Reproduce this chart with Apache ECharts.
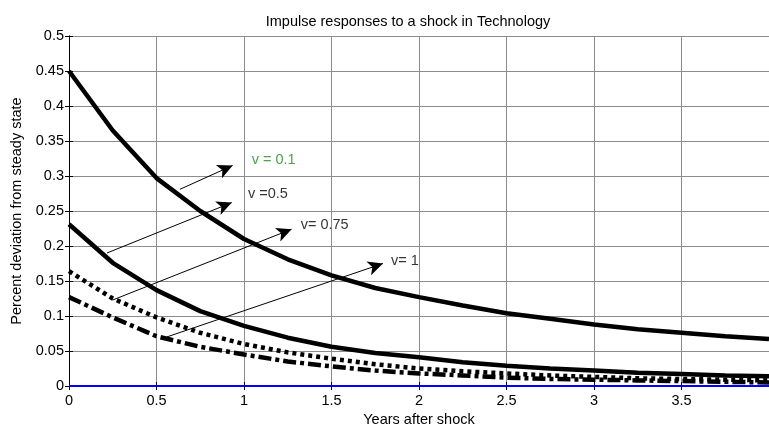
<!DOCTYPE html>
<html>
<head>
<meta charset="utf-8">
<script src="https://cdn.jsdelivr.net/npm/echarts@6/dist/echarts.min.js"></script>
<style>
    html, body { margin: 0; padding: 0; background: #fff; }
    #chart { width: 769px; height: 428px; }
</style>
</head>
<body>
<div id="chart"></div>
<script>
// years after shock (quarterly)
const years = [0, 0.25, 0.5, 0.75, 1, 1.25, 1.5, 1.75, 2, 2.25, 2.5, 2.75, 3, 3.25, 3.5, 3.75, 4];
const v01 = [0.45, 0.365, 0.297, 0.25, 0.21, 0.181, 0.158, 0.14, 0.127, 0.115, 0.104, 0.096, 0.088, 0.081, 0.076, 0.071, 0.067];
const v05 = [0.231, 0.176, 0.137, 0.107, 0.086, 0.069, 0.056, 0.047, 0.041, 0.034, 0.029, 0.025, 0.022, 0.019, 0.017, 0.015, 0.014];
const v075 = [0.164, 0.125, 0.098, 0.076, 0.06, 0.048, 0.039, 0.031, 0.025, 0.021, 0.018, 0.015, 0.013, 0.011, 0.01, 0.009, 0.008];
const v1 = [0.127, 0.098, 0.071, 0.056, 0.045, 0.035, 0.028, 0.022, 0.018, 0.015, 0.012, 0.01, 0.009, 0.008, 0.007, 0.006, 0.005];
const zero = [0, 0, 0, 0, 0, 0, 0, 0, 0, 0, 0, 0, 0, 0, 0, 0, 0];

// annotation arrows: [startX, startY, endX, endY]
const arrows = [
    [0.634, 0.281, 0.935, 0.315],
    [0.217, 0.19, 0.93, 0.262],
    [0.251, 0.123, 1.272, 0.224],
    [0.558, 0.07, 1.794, 0.175]
];
const labelTexts = ["v = 0.1", "v =0.5", "v= 0.75", "v= 1"];
const labelPos = [[1.044, 0.323], [1.023, 0.275], [1.324, 0.23], [1.84, 0.179]];
const labelColors = ["#1f8a1f", "#000", "#000", "#000"];

function pairs(ys){
    return years.map(function(x, i){ return [x, ys[i]]; });
}

const font = "Liberation Sans, Arial, sans-serif";
const fs = 14.5;
const myChart = echarts.init(document.getElementById('chart'));

myChart.setOption({
    animation: false,
    title: {
        text: 'Impulse responses to a shock in Technology',
        left: 403,
        textAlign: 'center',
        top: 9,
        textStyle: { fontSize: fs, fontWeight: 'normal', color: '#000', fontFamily: font }
    },
    grid: { left: 69, right: 0, top: 36, bottom: 42, containLabel: false, outerBoundsMode: 'none' },
    xAxis: [
        {
            type: 'value', min: 0, max: 4, interval: 0.5,
            name: 'Years after shock', nameLocation: 'middle', nameGap: 23,
            nameTextStyle: { fontSize: fs, color: '#000', fontFamily: font },
            axisLine: { onZero: false, lineStyle: { color: '#000', width: 1 } },
            axisTick: { inside: true, length: 4, lineStyle: { color: '#000' } },
            axisLabel: {
                fontSize: fs, color: '#000', fontFamily: font, margin: 7,
                formatter: function(v){ return v === 4 ? '' : String(v); }
            },
            splitLine: { show: true, lineStyle: { color: '#8c8c8c', width: 1 } }
        },
        {
            type: 'value', min: 0, max: 4, interval: 0.5, position: 'top',
            axisLine: { show: true, lineStyle: { color: '#000', width: 1 } },
            axisTick: { inside: true, length: 4, lineStyle: { color: '#000' } },
            axisLabel: { show: false },
            splitLine: { show: false }
        }
    ],
    yAxis: [
        {
            type: 'value', min: 0, max: 0.5, interval: 0.05,
            name: 'Percent deviation from steady state', nameLocation: 'middle', nameGap: 45,
            nameTextStyle: { fontSize: fs, color: '#000', fontFamily: font },
            axisLine: { show: true, lineStyle: { color: '#000', width: 1 } },
            axisTick: { inside: true, length: 4, lineStyle: { color: '#000' } },
            axisLabel: {
                fontSize: fs, color: '#000', fontFamily: font, margin: 5,
                formatter: function(v){ return String(Math.round(v * 100) / 100); }
            },
            splitLine: { show: true, lineStyle: { color: '#8c8c8c', width: 1 } }
        },
        {
            type: 'value', min: 0, max: 0.5, interval: 0.05, position: 'right',
            axisLine: { show: true, lineStyle: { color: '#000', width: 1 } },
            axisTick: { inside: true, length: 4, lineStyle: { color: '#000' } },
            axisLabel: { show: false },
            splitLine: { show: false }
        }
    ],
    series: [
        {
            type: 'line', data: pairs(v01), symbol: 'none',
            lineStyle: { color: '#000', width: 4.5 }
        },
        {
            type: 'line', data: pairs(v05), symbol: 'none',
            lineStyle: { color: '#000', width: 4.5 }
        },
        {
            type: 'line', data: pairs(v075), symbol: 'none',
            lineStyle: { color: '#000', width: 4.5, type: [4, 4] }
        },
        {
            type: 'line', data: pairs(v1), symbol: 'none',
            lineStyle: { color: '#000', width: 4.5, type: [13, 4, 4, 4] }
        },
        {   // zero line drawn over the axis
            type: 'line', data: pairs(zero), symbol: 'none', z: 10, clip: false,
            lineStyle: { color: '#0000ff', width: 2 }
        },
        {   // arrows
            type: 'line', data: [], symbol: 'none', silent: true,
            markLine: {
                silent: true,
                symbol: ['none', 'arrow'],
                symbolSize: [11, 15],
                label: { show: false },
                lineStyle: { color: '#000', width: 1, type: 'solid' },
                data: arrows.map(function(a){
                    return [{ coord: [a[0], a[1]] }, { coord: [a[2], a[3]] }];
                })
            }
        },
        {   // annotation texts
            type: 'scatter', symbolSize: 0, silent: true,
            data: labelPos.map(function(p, i){
                return {
                    value: p,
                    label: {
                        show: true, position: 'right', distance: 0,
                        formatter: labelTexts[i],
                        color: labelColors[i], fontSize: fs, fontFamily: font
                    }
                };
            })
        }
    ]
});
</script>
</body>
</html>
